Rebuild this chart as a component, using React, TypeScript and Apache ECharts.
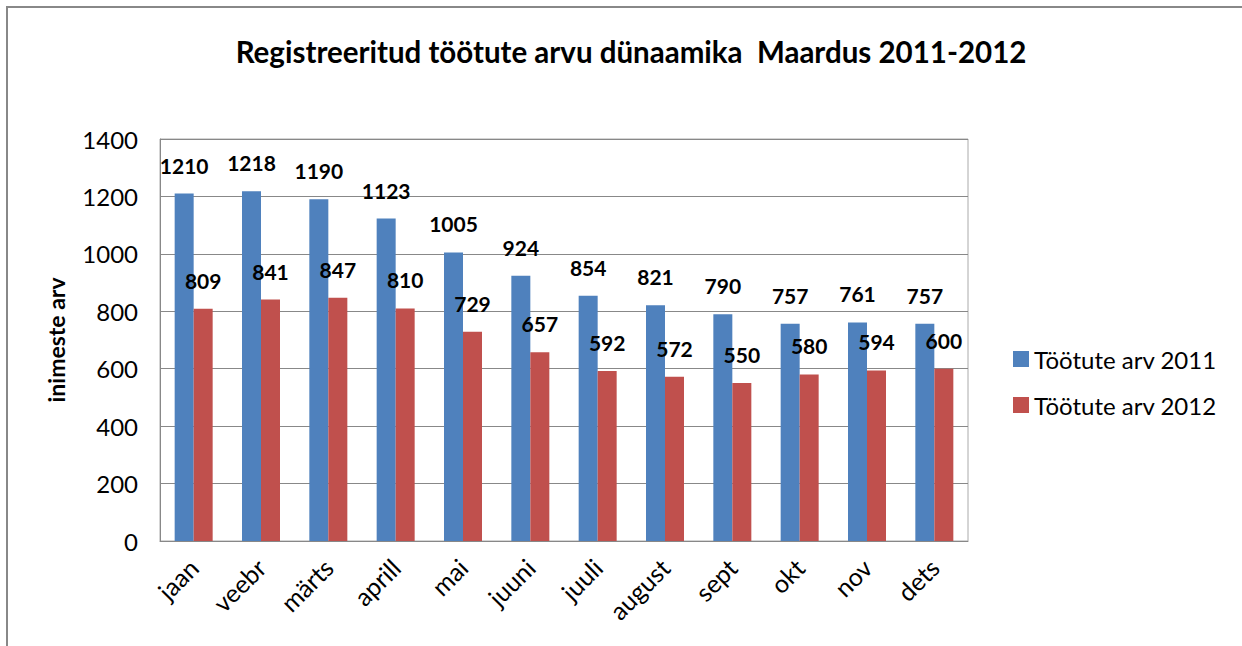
import React, { useEffect, useRef } from "react";
import * as echarts from "echarts";

const months = ["jaan", "veebr", "märts", "aprill", "mai", "juuni", "juuli", "august", "sept", "okt", "nov", "dets"];
const values2011 = [1210, 1218, 1190, 1123, 1005, 924, 854, 821, 790, 757, 761, 757];
const values2012 = [809, 841, 847, 810, 729, 657, 592, 572, 550, 580, 594, 600];
const seriesNames = ["Töötute arv 2011", "Töötute arv 2012"];
const titleText = "Registreeritud töötute arvu dünaamika  Maardus 2011-2012";
const yAxisName = "inimeste arv";

const FONT = "Lato, 'Open Sans', sans-serif";

export default function App() {
  const ref = useRef<HTMLDivElement>(null);
  useEffect(() => {
    if (!ref.current) return;
    const chart = echarts.init(ref.current, undefined, { renderer: "svg" });
    const label = {
      show: true,
      position: "top" as const,
      distance: 18,
      fontFamily: FONT,
      fontSize: 21,
      fontWeight: "bold" as const,
      color: "#000",
    };
    chart.setOption({
      animation: false,
      backgroundColor: "#fff",
      textStyle: { fontFamily: FONT },
      title: {
        text: titleText,
        left: 626,
        top: 31,
        textAlign: "center",
        textStyle: { fontFamily: FONT, fontSize: 29.5, fontWeight: "bold", color: "#000" },
      },
      graphic: [
        {
          type: "rect",
          shape: { x: 7, y: 7, width: 1300, height: 700 },
          style: { fill: "none", stroke: "#888", lineWidth: 2 },
          silent: true,
        },
      ],
      legend: {
        orient: "vertical",
        left: 1008,
        top: 342,
        itemWidth: 16,
        itemHeight: 16,
        itemGap: 22,
        icon: "rect",
        textStyle: { fontFamily: FONT, fontSize: 24, color: "#000" },
        data: seriesNames,
      },
      grid: {
        left: 160,
        top: 139,
        width: 808,
        height: 402,
        show: true,
        borderColor: "#aaa",
        borderWidth: 1,
      },
      xAxis: {
        type: "category",
        data: months,
        axisLine: { lineStyle: { color: "#888" } },
        axisTick: { show: false },
        axisLabel: { rotate: 45, margin: 22, fontFamily: FONT, fontSize: 25, color: "#000", interval: 0 },
      },
      yAxis: {
        type: "value",
        min: 0,
        max: 1400,
        interval: 200,
        name: yAxisName,
        nameLocation: "middle",
        nameGap: 93,
        nameTextStyle: { fontFamily: FONT, fontSize: 23, fontWeight: "bold", color: "#000" },
        axisLine: { show: true, lineStyle: { color: "#888" } },
        axisTick: { show: false },
        axisLabel: {
          margin: 22,
          fontFamily: FONT,
          fontSize: 24,
          color: "#000",
          formatter: (v: number) => String(v),
        },
        splitLine: { lineStyle: { color: "#888" } },
      },
      series: [
        {
          name: seriesNames[0],
          type: "bar",
          data: values2011,
          barWidth: 19,
          barGap: "0%",
          itemStyle: { color: "#4f81bd" },
          label,
        },
        {
          name: seriesNames[1],
          type: "bar",
          data: values2012,
          barWidth: 19,
          barGap: "0%",
          itemStyle: { color: "#c0504d" },
          label,
        },
      ],
    });
    return () => chart.dispose();
  }, []);
  return (
    <div
      ref={ref}
      style={{ position: "fixed", left: 0, top: 0, width: 1242, height: 646 }}
    />
  );
}
